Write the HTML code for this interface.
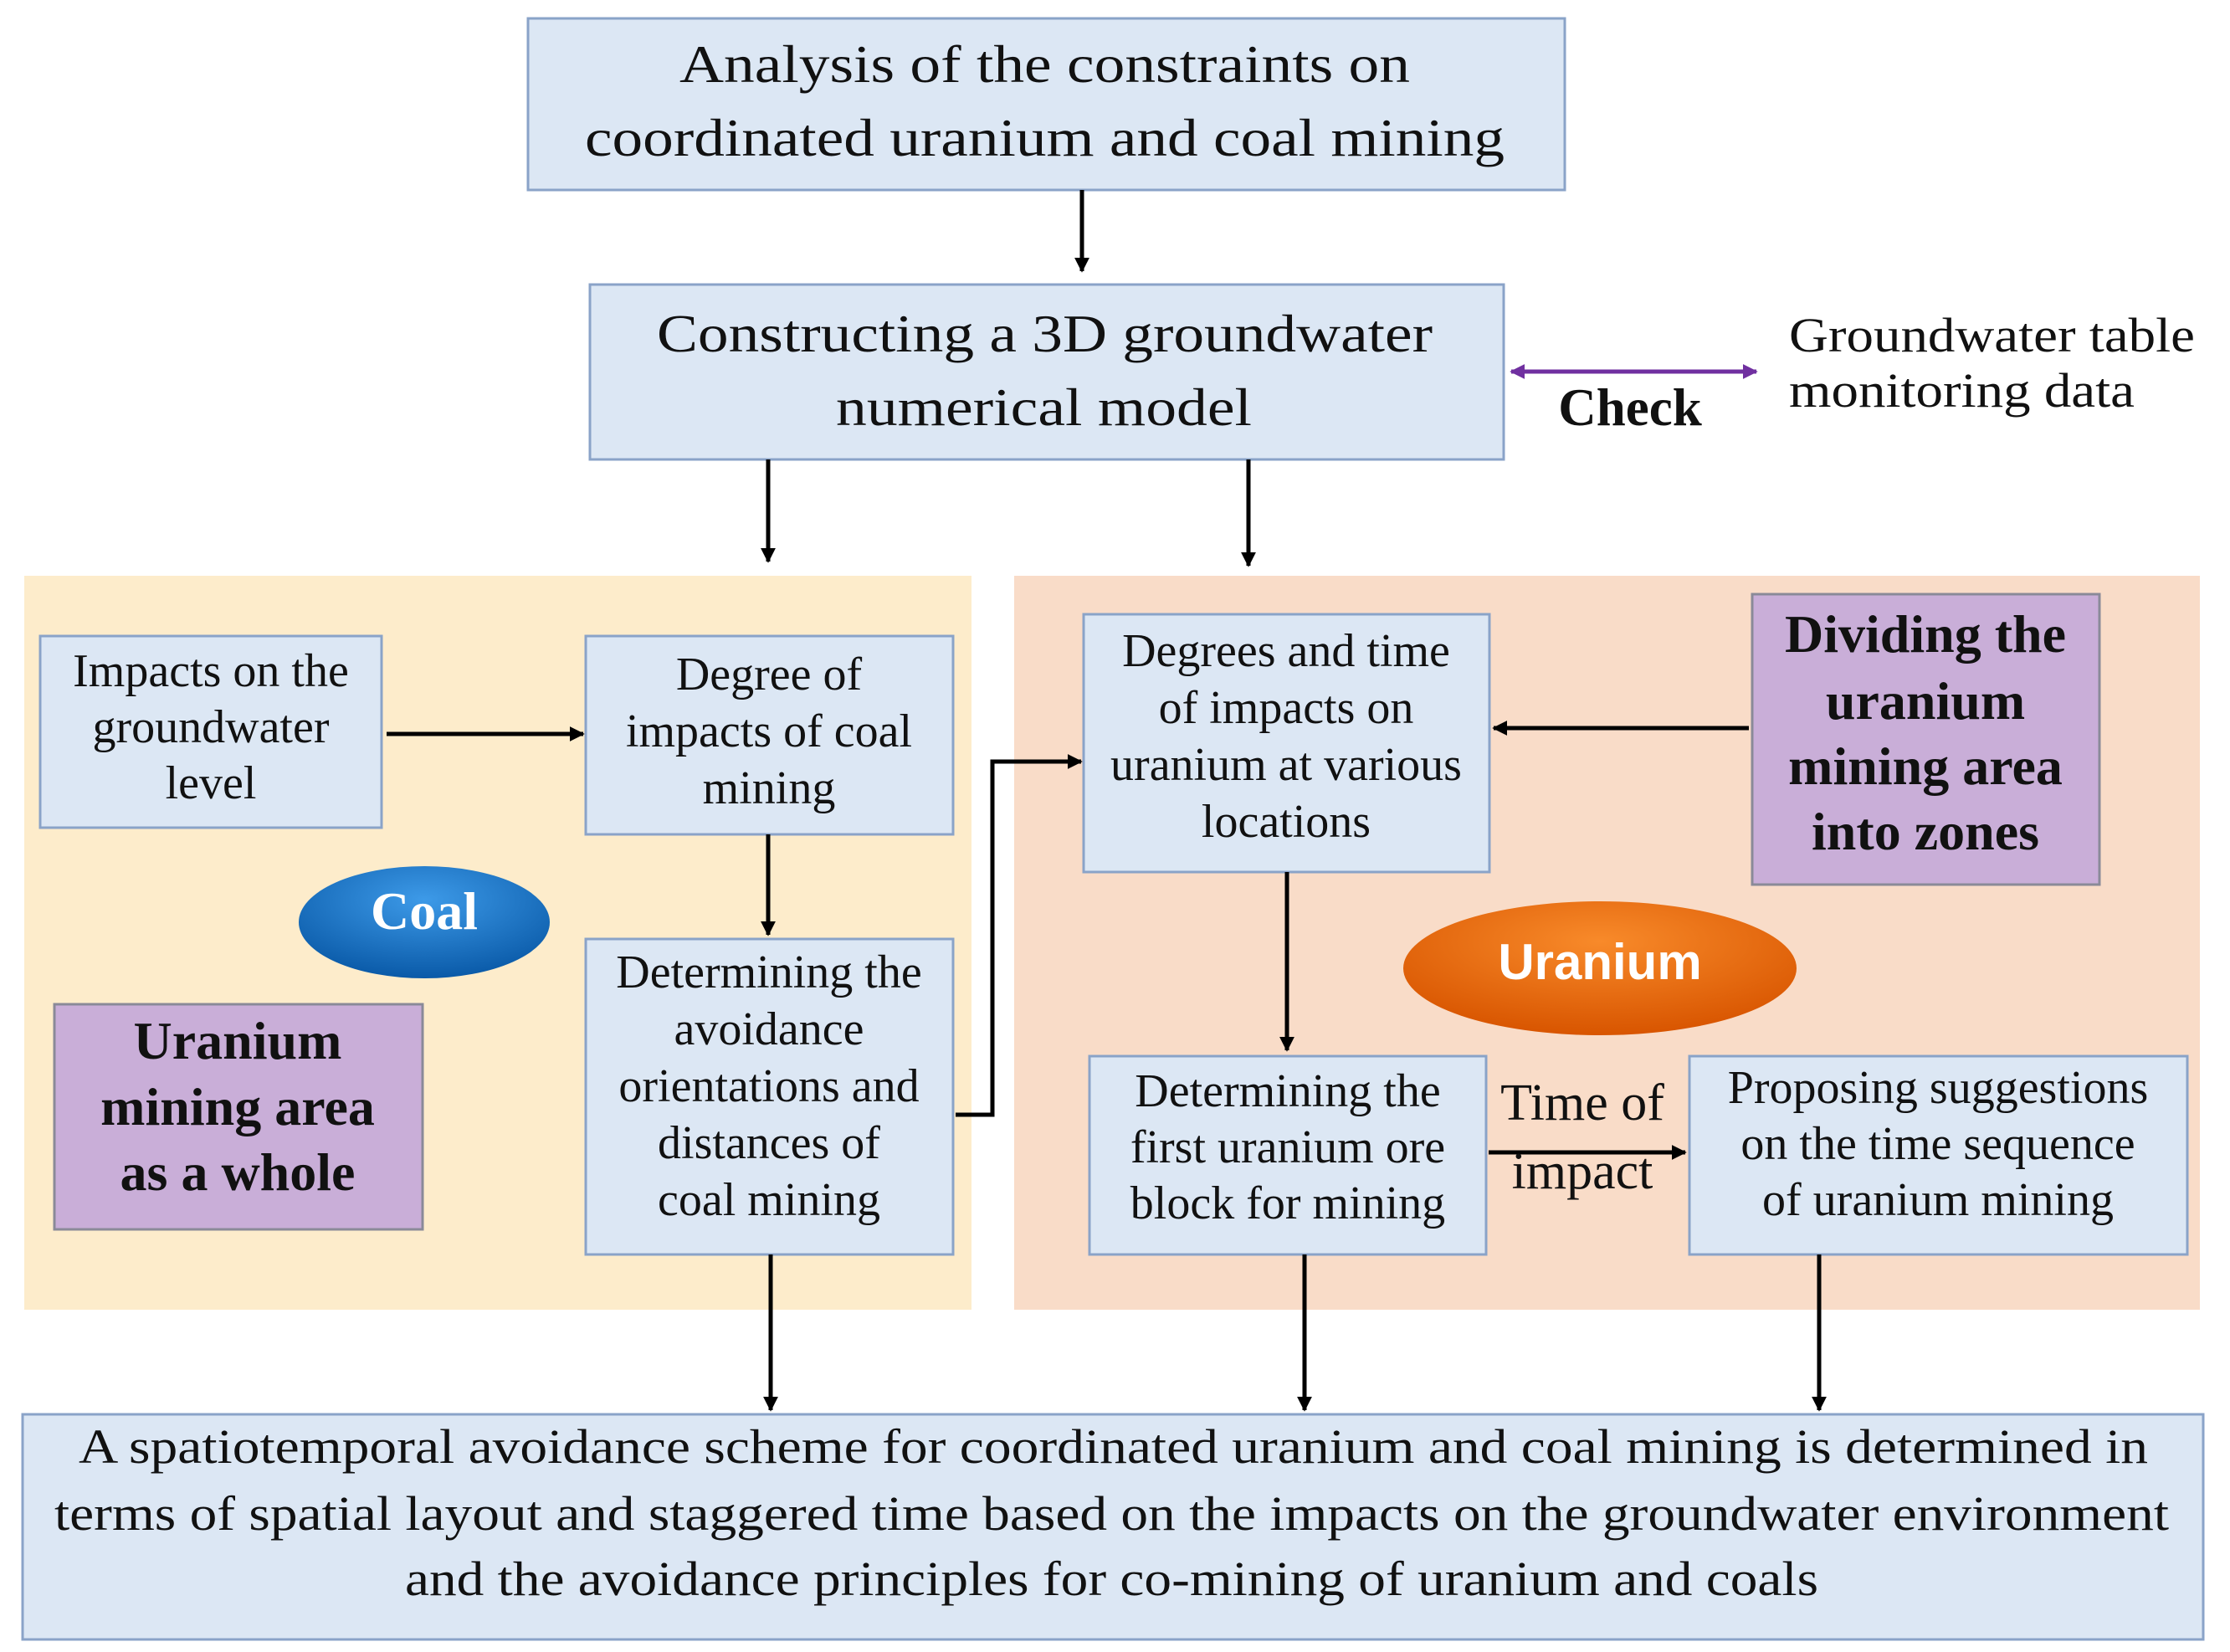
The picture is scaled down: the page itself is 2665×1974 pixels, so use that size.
<!DOCTYPE html>
<html><head><meta charset="utf-8">
<style>
html,body{margin:0;padding:0;background:#fff;}
svg{display:block;}
text{font-family:"Liberation Serif",serif;fill:#111;}
</style></head>
<body>
<svg width="2665" height="1974" viewBox="0 0 2665 1974" xmlns="http://www.w3.org/2000/svg">
<defs>
<marker id="ahs" viewBox="0 0 10 10" markerWidth="18" markerHeight="18" refX="9" refY="5" orient="auto" markerUnits="userSpaceOnUse">
<path d="M0,0 L10,5 L0,10 z" fill="#000"/></marker>
<marker id="ap" viewBox="0 0 10 10" markerWidth="18" markerHeight="18" refX="9" refY="5" orient="auto-start-reverse" markerUnits="userSpaceOnUse">
<path d="M0,0 L10,5 L0,10 z" fill="#7030a0"/></marker>
<radialGradient id="gb" cx="50%" cy="30%" r="70%">
<stop offset="0" stop-color="#3d9ae8"/><stop offset="1" stop-color="#0a5aa8"/></radialGradient>
<radialGradient id="go" cx="50%" cy="30%" r="70%">
<stop offset="0" stop-color="#f88a2a"/><stop offset="1" stop-color="#d85500"/></radialGradient>
</defs>

<rect x="29" y="688" width="1132" height="877" fill="#fdeccb"/>
<rect x="1212" y="688" width="1417" height="877" fill="#f9dcc8"/>

<g fill="#dce7f4" stroke="#8aa3c8" stroke-width="3">
<rect x="631" y="22" width="1239" height="205"/>
<rect x="705" y="340" width="1092" height="209"/>
<rect x="48" y="760" width="408" height="229"/>
<rect x="700" y="760" width="439" height="237"/>
<rect x="700" y="1122" width="439" height="377"/>
<rect x="1295" y="734" width="485" height="308"/>
<rect x="1302" y="1262" width="474" height="237"/>
<rect x="2019" y="1262" width="595" height="237"/>
<rect x="27" y="1690" width="2606" height="269"/>
</g>
<g fill="#c9aed8" stroke="#8a8a98" stroke-width="3">
<rect x="65" y="1200" width="440" height="269"/>
<rect x="2094" y="710" width="415" height="347"/>
</g>
<ellipse cx="507" cy="1102" rx="150" ry="67" fill="url(#gb)"/>
<ellipse cx="1912" cy="1157" rx="235" ry="80" fill="url(#go)"/>

<g stroke="#000" stroke-width="5" fill="none" marker-end="url(#ahs)">
<line x1="1293" y1="227" x2="1293" y2="324"/>
<line x1="918" y1="549" x2="918" y2="671"/>
<line x1="1492" y1="549" x2="1492" y2="676"/>
<line x1="462" y1="877" x2="697" y2="877"/>
<line x1="918" y1="997" x2="918" y2="1117"/>
<polyline points="1142,1332 1186,1332 1186,910 1292,910"/>
<line x1="2090" y1="870" x2="1785" y2="870"/>
<line x1="1538" y1="1042" x2="1538" y2="1255"/>
<line x1="1779" y1="1377" x2="2014" y2="1377"/>
<line x1="921" y1="1499" x2="921" y2="1685"/>
<line x1="1559" y1="1499" x2="1559" y2="1685"/>
<line x1="2174" y1="1499" x2="2174" y2="1685"/>
</g>
<line x1="1806" y1="444" x2="2099" y2="444" stroke="#7030a0" stroke-width="5" marker-start="url(#ap)" marker-end="url(#ap)"/>

<g font-size="64" lengthAdjust="spacingAndGlyphs">
<text x="812" y="98" textLength="873" lengthAdjust="spacingAndGlyphs">Analysis of the constraints on</text>
<text x="699" y="186" textLength="1099" lengthAdjust="spacingAndGlyphs">coordinated uranium and coal mining</text>
<text x="785" y="420" textLength="927" lengthAdjust="spacingAndGlyphs">Constructing a 3D groundwater</text>
<text x="999" y="508" textLength="497" lengthAdjust="spacingAndGlyphs">numerical model</text>
</g>
<text x="1948" y="508" font-size="63" font-weight="bold" text-anchor="middle">Check</text>
<g font-size="58">
<text x="2138" y="420" textLength="485" lengthAdjust="spacingAndGlyphs">Groundwater table</text>
<text x="2138" y="486" textLength="413" lengthAdjust="spacingAndGlyphs">monitoring data</text>
</g>
<g font-size="56" text-anchor="middle">
<text x="252" y="820">Impacts on the</text>
<text x="252" y="887">groundwater</text>
<text x="252" y="954">level</text>
<text x="919" y="824">Degree of</text>
<text x="919" y="892">impacts of coal</text>
<text x="919" y="960">mining</text>
<text x="919" y="1180">Determining the</text>
<text x="919" y="1248">avoidance</text>
<text x="919" y="1316">orientations and</text>
<text x="919" y="1384">distances of</text>
<text x="919" y="1452">coal mining</text>
<text x="1537" y="796">Degrees and time</text>
<text x="1537" y="864">of impacts on</text>
<text x="1537" y="932">uranium at various</text>
<text x="1537" y="1000">locations</text>
<text x="1539" y="1322">Determining the</text>
<text x="1539" y="1389">first uranium ore</text>
<text x="1539" y="1456">block for mining</text>
<text x="2316" y="1318">Proposing suggestions</text>
<text x="2316" y="1385">on the time sequence</text>
<text x="2316" y="1452">of uranium mining</text>
<text x="1891" y="1338" font-size="62">Time of</text>
<text x="1891" y="1420" font-size="62">impact</text>
</g>
<g font-size="64" font-weight="bold" text-anchor="middle">
<text x="284" y="1265">Uranium</text>
<text x="284" y="1344">mining area</text>
<text x="284" y="1422">as a whole</text>
<text x="2301" y="779">Dividing the</text>
<text x="2301" y="859">uranium</text>
<text x="2301" y="937">mining area</text>
<text x="2301" y="1015">into zones</text>
</g>
<text x="507" y="1110" font-size="64" font-weight="bold" text-anchor="middle" style="fill:#fff">Coal</text>
<text x="1912" y="1170" font-size="60" font-weight="bold" text-anchor="middle" style="fill:#fff;font-family:'Liberation Sans',sans-serif">Uranium</text>
<g font-size="58">
<text x="94" y="1748" textLength="2473" lengthAdjust="spacingAndGlyphs">A spatiotemporal avoidance scheme for coordinated uranium and coal mining is determined in</text>
<text x="65" y="1828" textLength="2527" lengthAdjust="spacingAndGlyphs">terms of spatial layout and staggered time based on the impacts on the groundwater environment</text>
<text x="484" y="1906" textLength="1689" lengthAdjust="spacingAndGlyphs">and the avoidance principles for co-mining of uranium and coals</text>
</g>
</svg>
</body></html>
